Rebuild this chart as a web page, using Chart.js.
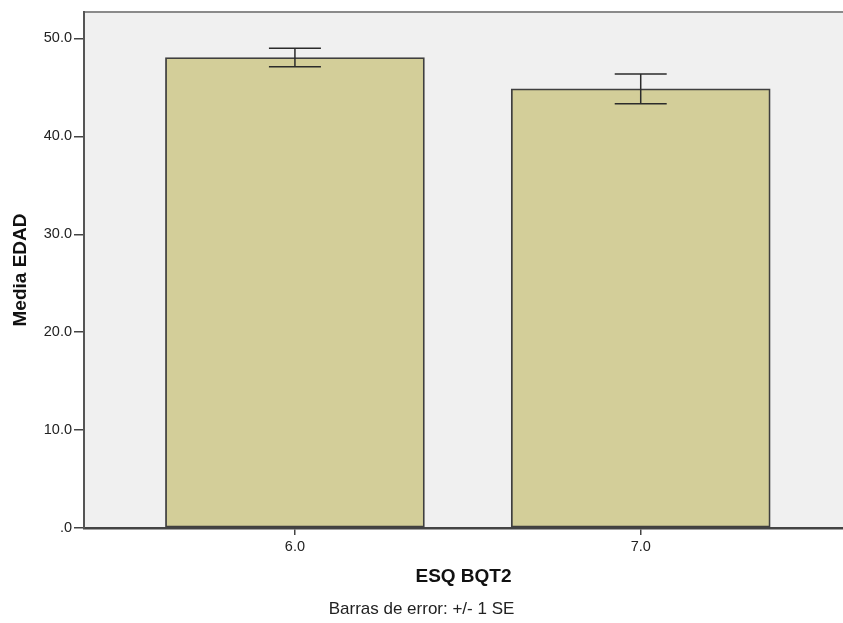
<!DOCTYPE html>
<html>
<head>
<meta charset="utf-8">
<script src="https://cdn.jsdelivr.net/npm/chart.js@4"></script>
<style>
  html, body { margin: 0; padding: 0; background: #fff; }
  #wrap { width: 843px; height: 623px; }
</style>
</head>
<body>
<div id="wrap"><canvas id="chart"></canvas></div>
<script>
// ─── DATA ────────────────────────────────────────────────────────────────
const groups = [6, 7];
const xTickLabels = ['6.0', '7.0'];
const means = [48.05, 44.86];
const stdErr = [0.95, 1.52];
const yTicks = [0, 10, 20, 30, 40, 50];
const yTickLabels = ['.0', '10.0', '20.0', '30.0', '40.0', '50.0'];

const FONT = "'Liberation Sans', Arial, sans-serif";

// grey plot panel + top frame line
const plotPanel = {
  id: 'plotPanel',
  beforeDraw(chart) {
    const { ctx, chartArea: a } = chart;
    ctx.save();
    ctx.fillStyle = '#f0f0f0';
    ctx.fillRect(a.left, a.top, a.right - a.left, a.bottom - a.top);
    ctx.strokeStyle = '#8a8a8a';
    ctx.lineWidth = 2;
    ctx.beginPath();
    ctx.moveTo(a.left, a.top);
    ctx.lineTo(a.right, a.top);
    ctx.stroke();
    ctx.restore();
  }
};

// +/- 1 SE whiskers
const errorBars = {
  id: 'errorBars',
  afterDatasetsDraw(chart) {
    const { ctx, scales: { x, y } } = chart;
    const cap = 26;
    ctx.save();
    ctx.strokeStyle = '#2b2b2b';
    ctx.lineWidth = 1.5;
    groups.forEach((g, i) => {
      const px = x.getPixelForValue(g);
      const hi = y.getPixelForValue(means[i] + stdErr[i]);
      const lo = y.getPixelForValue(means[i] - stdErr[i]);
      ctx.beginPath();
      ctx.moveTo(px, hi); ctx.lineTo(px, lo);
      ctx.moveTo(px - cap, hi); ctx.lineTo(px + cap, hi);
      ctx.moveTo(px - cap, lo); ctx.lineTo(px + cap, lo);
      ctx.stroke();
    });
    ctx.restore();
  }
};

new Chart(document.getElementById('chart'), {
  type: 'bar',
  data: {
    datasets: [{
      label: 'Media EDAD',
      data: groups.map((g, i) => ({ x: g, y: means[i] })),
      backgroundColor: '#d3ce99',
      borderColor: '#3f3f3f',
      borderWidth: 1.8,
      borderSkipped: false,
      barThickness: 259
    }]
  },
  options: {
    responsive: true,
    maintainAspectRatio: false,
    animation: false,
    layout: { padding: { top: 12, right: 0, left: 0, bottom: 0 } },
    plugins: {
      legend: { display: false },
      tooltip: { enabled: false },
      subtitle: {
        display: true,
        position: 'bottom',
        text: 'Barras de error: +/- 1 SE',
        color: '#222',
        font: { family: FONT, size: 17, weight: 'normal' },
        padding: { top: 3, bottom: 3 }
      }
    },
    scales: {
      x: {
        type: 'linear',
        min: 5.39,
        max: 7.585,
        offset: false,
        afterBuildTicks: s => { s.ticks = groups.map(v => ({ value: v })); },
        afterFit: s => { s.height = 68.6; },
        ticks: {
          callback: (v, i) => xTickLabels[i],
          color: '#222',
          font: { family: FONT, size: 14.5 },
          padding: 3,
          maxRotation: 0
        },
        grid: { offset: false, drawOnChartArea: false, drawTicks: true, tickLength: 7, color: '#444', lineWidth: 1.5 },
        border: { display: true, color: '#444', width: 2.5 },
        title: {
          display: true,
          text: 'ESQ BQT2',
          color: '#111',
          font: { family: FONT, size: 19, weight: 'bold' },
          padding: { top: 8, bottom: 8 }
        }
      },
      y: {
        min: 0,
        max: 52.7,
        afterBuildTicks: s => { s.ticks = yTicks.map(v => ({ value: v })); },
        afterFit: s => { s.width = 84; },
        ticks: {
          callback: (v, i) => yTickLabels[i],
          color: '#222',
          font: { family: FONT, size: 14.5 },
          padding: 2
        },
        grid: { drawOnChartArea: false, drawTicks: true, tickLength: 10, color: '#444', lineWidth: 1.5 },
        border: { display: true, color: '#555', width: 2 },
        title: {
          display: true,
          text: 'Media EDAD',
          color: '#111',
          font: { family: FONT, size: 19, weight: 'bold' },
          padding: { top: 9, bottom: 0 }
        }
      }
    }
  },
  plugins: [plotPanel, errorBars]
});
</script>
</body>
</html>
